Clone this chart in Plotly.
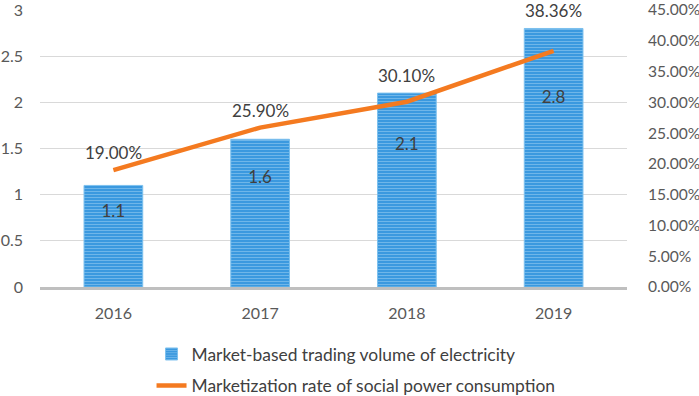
import plotly.graph_objects as go

years = ["2016", "2017", "2018", "2019"]
trading_volume = [1.1, 1.6, 2.1, 2.8]
marketization_rate = [0.19, 0.259, 0.301, 0.3836]
rate_labels = ["19.00%", "25.90%", "30.10%", "38.36%"]

Y1_MAX = 3
Y2_MAX = 0.45

FONT = "Lato, 'Open Sans', sans-serif"
TXT = "#404040"

fig = go.Figure()
fig.add_trace(go.Bar(
    x=years, y=trading_volume, name="Market-based trading volume of electricity",
    marker=dict(color="#3a9be0", line=dict(color="#7cc0ee", width=1),
                pattern=dict(shape="-", fgcolor="#b0d9f5", bgcolor="#2f93dc",
                             size=3, solidity=0.45)),
    legendgroup="a", yaxis="y",
))
# bar value labels (placed inside the bars)
fig.add_trace(go.Scatter(
    x=years, y=[v * 0.73 for v in trading_volume], mode="text",
    text=[str(v) for v in trading_volume], textfont=dict(size=17, color=TXT, family=FONT),
    showlegend=False, hoverinfo="skip", yaxis="y",
))
fig.add_trace(go.Scatter(
    x=years, y=marketization_rate, name="Marketization rate of social power consumption",
    mode="lines", line=dict(color="#f47a20", width=4.5),
    legendgroup="b", yaxis="y2",
))
# rate labels sit above the higher of the line point and the bar top
for i, (r, v, lab) in enumerate(zip(marketization_rate, trading_volume, rate_labels)):
    anchor = max(r, v / Y1_MAX * Y2_MAX)
    fig.add_annotation(x=i, y=anchor, xref="x", yref="y2", text=lab, showarrow=False,
                       yanchor="bottom", yshift=5,
                       font=dict(size=17, color=TXT, family=FONT))

fig.update_layout(
    width=699, height=396,
    margin=dict(l=40, r=72, t=10, b=0, autoexpand=False),
    paper_bgcolor="white", plot_bgcolor="white",
    font=dict(family=FONT, color="#595959", size=16),
    bargap=0.6,
    showlegend=True,
    legend=dict(orientation="v", x=0.19, xanchor="left", y=0.155, yanchor="top",
                font=dict(size=17.4, color=TXT), tracegroupgap=6,
                bgcolor="rgba(0,0,0,0)"),
    xaxis=dict(type="category", range=[-0.5, len(years) - 0.5], showline=True,
               linecolor="#bfbfbf", linewidth=3, ticklabelstandoff=10,
               ticks="", automargin=False, tickfont=dict(size=16, color="#595959")),
    yaxis=dict(range=[0, Y1_MAX], dtick=0.5, showgrid=True, gridcolor="#d9d9d9",
               domain=[0.2824, 1], gridwidth=1, zeroline=False, automargin=False,
               ticklabelstandoff=16, ticklabeloverflow="allow",
               tickfont=dict(size=16, color="#595959")),
    yaxis2=dict(range=[0, Y2_MAX], dtick=0.05, tickformat=".2%", overlaying="y",
                side="right", showgrid=False, zeroline=False, automargin=False,
                ticklabelstandoff=20, ticklabeloverflow="allow",
                tickfont=dict(size=15.6, color="#595959")),
)
fig.write_html("out.html", config={"displayModeBar": False},
               post_script="document.body.style.margin='0px';")
